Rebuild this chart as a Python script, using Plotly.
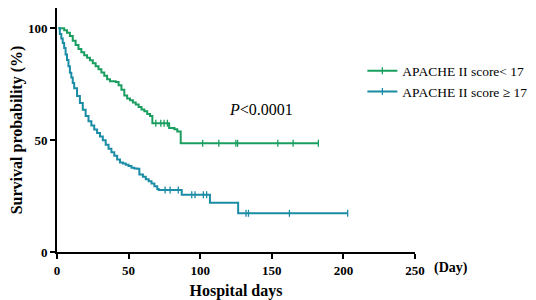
import plotly.graph_objects as go

# ---- Data ----
low_days = [1, 3, 5, 7, 9, 11, 13, 15, 17, 19, 21, 23, 25, 27, 29, 31, 33, 35, 37, 39, 41, 43, 45, 47,
            49, 51, 53, 55, 57, 59, 61, 63, 65, 66.6, 69, 72.5, 74.8, 77.1, 78.3, 80, 82, 84, 86.4,
            101.7, 113, 124.9, 126.1, 154.2, 164.9, 182.5]
low_surv = [100, 100, 99.2, 98, 96.6, 94.5, 92.6, 90.8, 89.3, 88, 86.8, 85.7, 84.4, 83, 81.7, 80.3, 78.8,
            77.2, 76.3, 76.4, 76, 74.6, 72.6, 70, 68.6, 67.8, 66.8, 65.9, 64.8, 63.7, 62.9, 61.7, 60.8,
            57.6, 57.6, 57.6, 57.6, 57.6, 55.4, 55.4, 54.9, 53.9, 48.6,
            48.6, 48.6, 48.6, 48.6, 48.6, 48.6, 48.6]
low_cens = [0] * 34 + [1, 1, 1, 1, 0, 0, 0, 0, 0, 1, 1, 1, 1, 1, 1, 1]

high_days = [1, 2, 3, 4, 5, 6, 7, 8, 9, 10, 11, 12, 14, 16, 18, 20, 22, 24, 26, 28, 30, 32, 34, 36, 38,
             40, 42, 44, 46, 48, 50, 52, 54, 56, 57.5, 60, 62, 64, 66, 68, 70, 71, 75.5, 79, 84.7, 87.1,
             94.1, 96.4, 102.2, 104.5, 106.8, 126.5, 132, 133.7, 162.3, 203]
high_surv = [100, 97.5, 95.5, 93.5, 91.2, 88.3, 85.8, 83, 80.2, 78, 75.6, 73.2, 69.8, 66.6, 63.6, 60.8,
             58.5, 56.6, 54.8, 53.2, 51.6, 50, 48, 46.2, 44.6, 43, 41.4, 40, 39.6, 39, 38.4, 37.7, 37.3,
             37.2, 34.6, 33.6, 32.5, 31.6, 30.6, 29.4, 28.2, 27.7, 27.7, 27.7, 27.7, 25.6,
             25.6, 25.6, 25.6, 25.6, 22, 17.3, 17.3, 17.3, 17.3, 17.3]
high_cens = [0] * 42 + [1, 1, 1, 0, 1, 1, 1, 1, 0, 0, 1, 1, 1, 1]

series_names = ["APACHE II score< 17", "APACHE II score ≥ 17"]
series_colors = ["#1a9e5f", "#1b8ca6"]

x_ticks = [0, 50, 100, 150, 200, 250]
y_ticks = [0, 50, 100]

FONT = "Liberation Serif, Times New Roman, serif"

fig = go.Figure()
for name, color, d, s, c in [(series_names[0], series_colors[0], low_days, low_surv, low_cens),
                             (series_names[1], series_colors[1], high_days, high_surv, high_cens)]:
    fig.add_trace(go.Scatter(x=d, y=s, mode="lines", line=dict(color=color, width=2, shape="hv"),
                             showlegend=False, hoverinfo="skip"))
    cd = [dd for dd, cc in zip(d, c) if cc]
    cs = [ss for ss, cc in zip(s, c) if cc]
    fig.add_trace(go.Scatter(x=cd, y=cs, mode="markers",
                             marker=dict(symbol="line-ns", size=5, line=dict(color=color, width=1.3)),
                             showlegend=False, hoverinfo="skip"))
    # legend entry
    fig.add_trace(go.Scatter(x=[None], y=[None], mode="lines+markers", name=name,
                             line=dict(color=color, width=2),
                             marker=dict(symbol="line-ns", size=5, line=dict(color=color, width=1.3))))

fig.add_annotation(x=142.4, y=63.8, xref="x", yref="y", text="<i>P</i>&lt;0.0001", showarrow=False,
                   font=dict(family=FONT, size=16, color="black"))
fig.add_annotation(x=1.10, y=-0.065, xref="paper", yref="paper", xanchor="center", yanchor="middle",
                   text="(Day)", showarrow=False,
                   font=dict(family=FONT, size=14, color="black", weight="bold"))

# the page body has an 8px margin, so the figure is 8px smaller than the window
fig.update_layout(
    template="none",
    width=528, height=292,
    margin=dict(l=48.7, r=120.5, t=0, b=48, autoexpand=False),
    paper_bgcolor="white", plot_bgcolor="white",
    font=dict(family=FONT, color="black"),
    legend=dict(x=0.853, y=0.805, xanchor="left", yanchor="top", font=dict(family=FONT, size=13.5),
                bgcolor="rgba(0,0,0,0)", borderwidth=0, tracegroupgap=0),
)
fig.update_xaxes(range=[0, 250], tickvals=x_ticks, ticktext=[str(v) for v in x_ticks], automargin=False,
                 showgrid=False, zeroline=False, showline=True, linecolor="black", linewidth=2,
                 ticks="outside", ticklen=5, tickwidth=2, tickcolor="black",
                 tickfont=dict(family=FONT, size=13, weight="bold"),
                 title=dict(text="Hospital days", font=dict(family=FONT, size=16, weight="bold"), standoff=8))
fig.update_yaxes(range=[0, 109.1], tickvals=y_ticks, ticktext=[str(v) for v in y_ticks], automargin=False,
                 showgrid=False, zeroline=False, showline=True, linecolor="black", linewidth=2,
                 ticks="outside", ticklen=5, tickwidth=2, tickcolor="black",
                 tickfont=dict(family=FONT, size=13, weight="bold"),
                 title=dict(text="Survival probability (%)", font=dict(family=FONT, size=16, weight="bold"),
                            standoff=1))

fig.write_html("out.html")
